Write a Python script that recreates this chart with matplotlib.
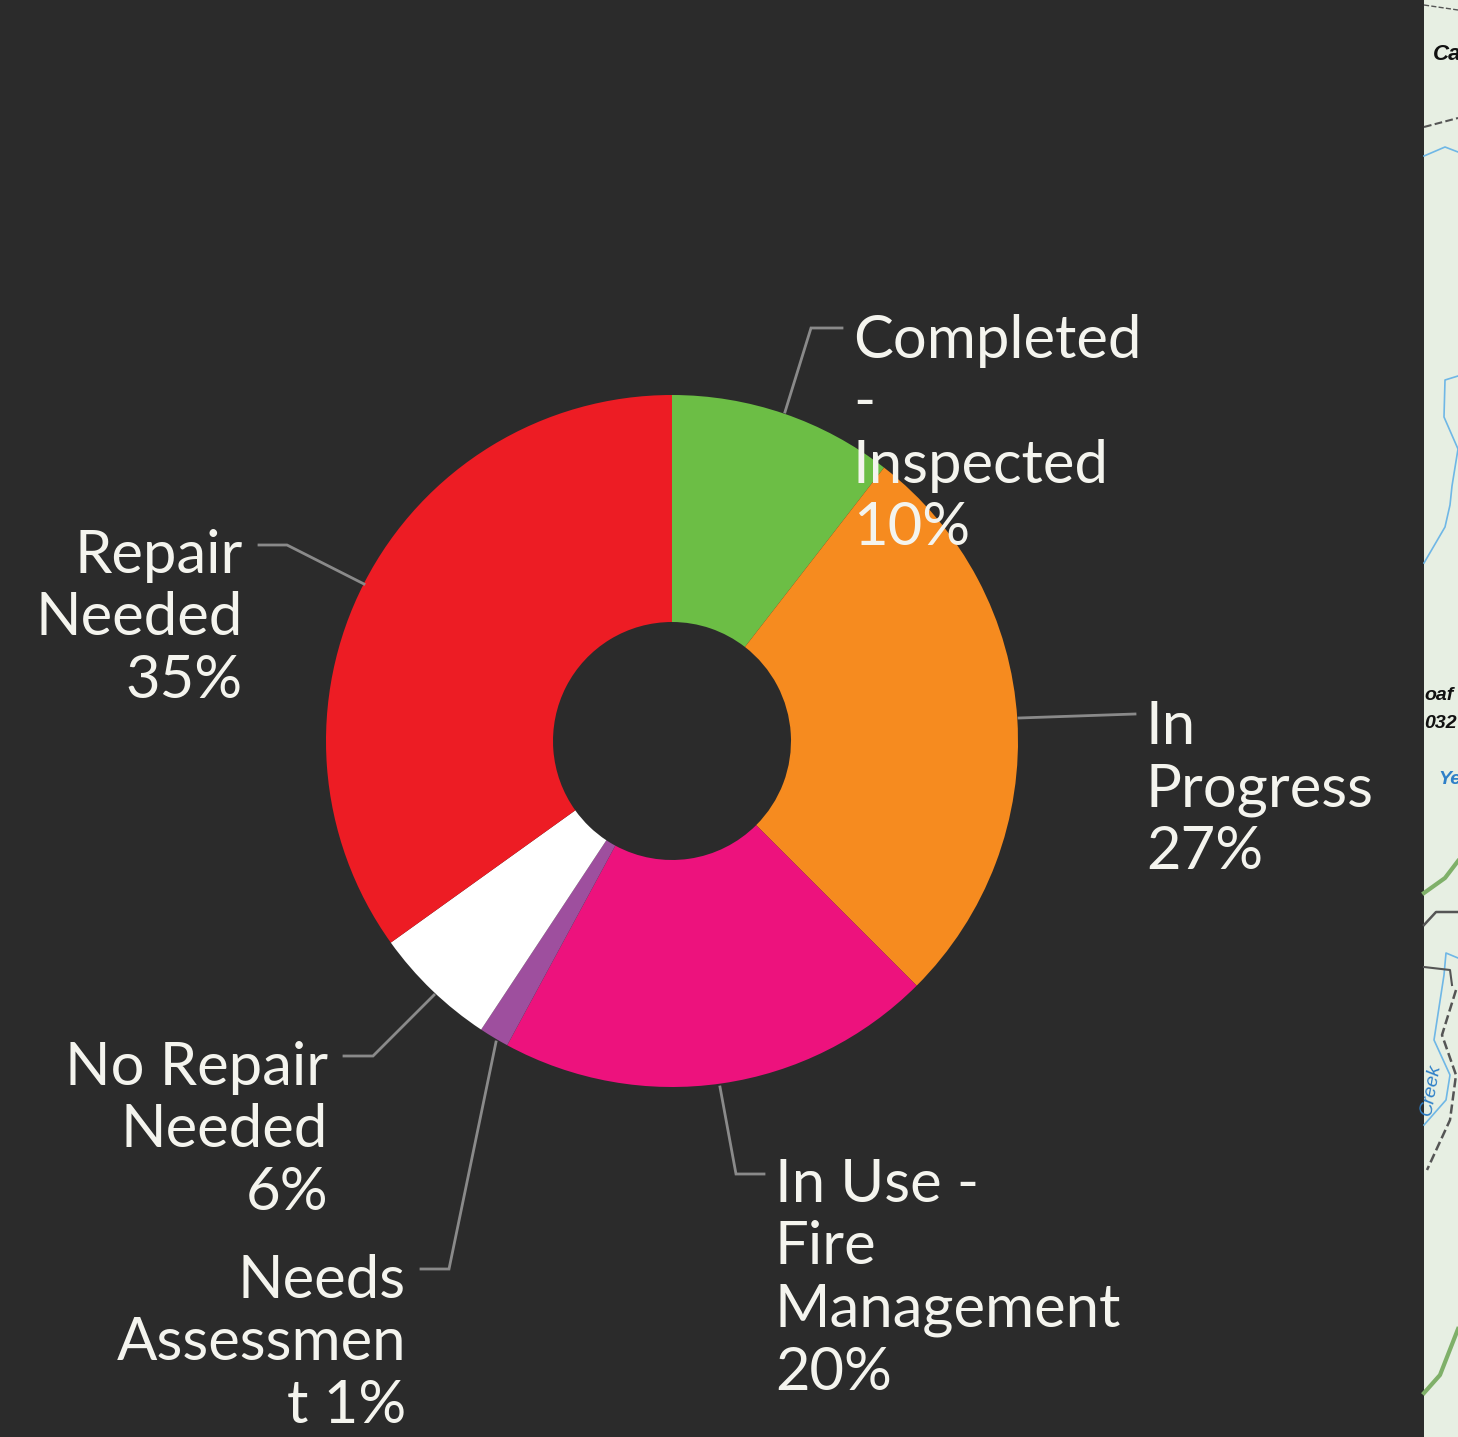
import matplotlib
matplotlib.use("Agg")
import matplotlib.pyplot as plt
from matplotlib.patches import Rectangle

# slice shares, clockwise from 12 o'clock
names = ["Completed - Inspected", "In Progress", "In Use - Fire Management", "Needs Assessment", "No Repair Needed", "Repair Needed"]
values = [10.5, 27.0, 20.4, 1.4, 5.8, 34.9]
colors = ["#6cbe45", "#f68b1f", "#ed127d", "#9e4f9e", "#ffffff", "#ed1c24"]

label_text = ["Completed\n-\nInspected\n10%", "In\nProgress\n27%", "In Use -\nFire\nManagement\n20%",
              "Needs\nAssessmen\nt 1%", "No Repair\nNeeded\n6%", "Repair\nNeeded\n35%"]
label_pos = [(853, 314), (1146, 700), (775, 1158), (406, 1254), (328, 1041), (243, 529)]
label_align = ["left", "left", "left", "right", "right", "right"]

leaders = [
    [(785, 412), (811, 328), (842, 328)],
    [(1019, 718), (1135, 714)],
    [(720, 1087), (736, 1174), (764, 1174)],
    [(496, 1042), (449, 1269), (421, 1269)],
    [(434, 995), (373, 1056), (344, 1056)],
    [(364, 584), (287, 545), (259, 545)],
]

W, H = 1458, 1437
bg = "#2b2b2b"

fig = plt.figure(figsize=(W / 100, H / 100), dpi=100, facecolor=bg)
ax = fig.add_axes([0, 0, 1, 1])

# donut drawn through pie, center/radius in pixel coords. y axis is flipped so
# counterclock=True runs clockwise on screen
ax.pie(values, colors=colors, startangle=-90, counterclock=True, center=(672, 741), radius=346,
       wedgeprops=dict(width=227, edgecolor="none"))
ax.set_aspect("auto")
ax.set_xlim(0, W)
ax.set_ylim(H, 0)
ax.axis("off")

# map strip on the right
ax.add_patch(Rectangle((1424, 0), 34, H, facecolor="#e7efe3", edgecolor="none"))
ax.plot([1424, 1445, 1458], [893, 878, 861], color="#7fb069", lw=3)
ax.plot([1424, 1440, 1458], [1393, 1375, 1329], color="#7fb069", lw=3)
ax.plot([1424, 1445, 1458], [156, 147, 152], color="#6fb7e6", lw=1.2)
ax.plot([1458, 1445, 1444, 1458, 1452, 1450, 1445, 1424], [376, 380, 417, 449, 486, 505, 527, 563], color="#6fb7e6", lw=1.2)
ax.plot([1458, 1446, 1444, 1434, 1450, 1446, 1424], [958, 953, 975, 1040, 1075, 1100, 1125], color="#6fb7e6", lw=1.2)
ax.plot([1424, 1458], [127, 118], color="#555555", lw=1.5, ls="--")
ax.plot([1424, 1458], [5, 10], color="#555555", lw=1, ls="--")
ax.plot([1424, 1436, 1458], [925, 912, 912], color="#555555", lw=1.8)
ax.plot([1424, 1450, 1452], [967, 970, 985], color="#555555", lw=1.5)
ax.plot([1456, 1442, 1456, 1450, 1427], [990, 1035, 1075, 1120, 1170], color="#555555", lw=1.8, ls="--")
ax.text(1433, 54, "Ca", fontsize=16, style="italic", weight="bold", family="Liberation Sans", color="#111111", va="center", clip_on=True)
ax.text(1424, 695, "oaf", fontsize=14, style="italic", weight="bold", family="Liberation Sans", color="#111111", va="center", clip_on=True)
ax.text(1424, 723, "032", fontsize=14, style="italic", weight="bold", family="Liberation Sans", color="#111111", va="center", clip_on=True)
ax.text(1438, 780, "Ye", fontsize=14, style="italic", weight="bold", family="Liberation Sans", color="#2f80c8", va="center", clip_on=True)
ax.text(1431, 1090, "Creek", fontsize=14, style="italic", family="Liberation Sans", color="#2f80c8", rotation=80, va="center", ha="center", clip_on=True)

for pts in leaders:
    ax.plot([p[0] for p in pts], [p[1] for p in pts], color="#8a8a8a", lw=2, solid_joinstyle="miter")

for txt, pos, al in zip(label_text, label_pos, label_align):
    ax.text(pos[0], pos[1], txt, color="#f4f4ee", fontsize=43, family="Lato", ha=al, va="top",
            multialignment=al, linespacing=1.19)

fig.savefig("out.png", dpi=100, facecolor=bg)
